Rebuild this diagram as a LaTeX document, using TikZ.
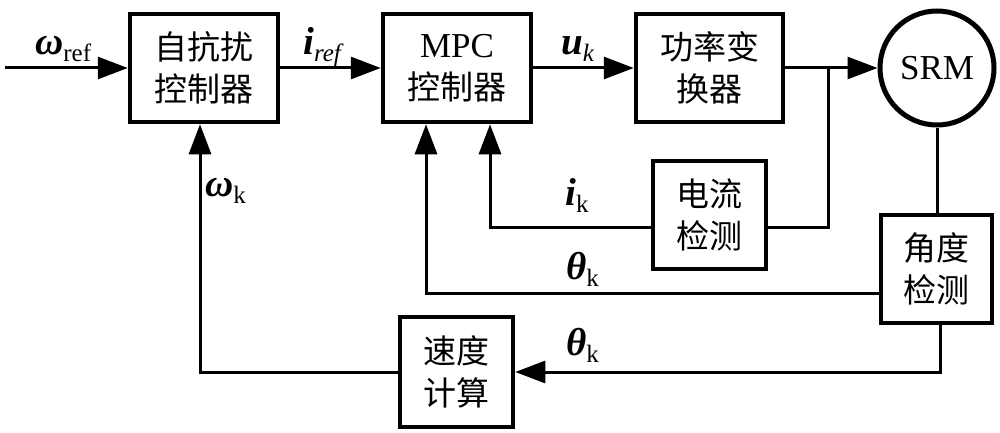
\documentclass[tikz,border=0pt]{standalone}
\usepackage{fontspec}
\setmainfont{Liberation Serif}
\newfontfamily\cjk{Noto Sans CJK SC}
\usetikzlibrary{arrows.meta}
\newcommand{\mainsym}[1]{{\fontsize{39}{39}\selectfont\bfseries\itshape #1}}
\newcommand{\subup}[1]{\raisebox{-7pt}{\fontsize{25}{25}\selectfont #1}}
\newcommand{\subit}[1]{\raisebox{-7pt}{\fontsize{25}{25}\selectfont\itshape #1}}
\begin{document}
\begin{tikzpicture}[x=1pt,y=-1pt,
  blk/.style={draw, line width=4.5pt, inner sep=0pt, align=center,
    font=\cjk\fontsize{33}{42}\selectfont},
  conn/.style={line width=3pt},
  arr/.style={conn, -{Triangle[length=30pt,width=22pt]}},
  lbl/.style={inner sep=0pt, anchor=base west}]
\useasboundingbox (0,0) rectangle (1000,433);

% blocks
\node[blk, minimum width=148pt, minimum height=108pt] (adrc) at (204,68) {自抗扰\\控制器};
\node[blk, minimum width=148pt, minimum height=108pt] (mpc) at (457,68) {{\rmfamily\fontsize{35}{42}\selectfont MPC}\\控制器};
\node[blk, minimum width=147pt, minimum height=108pt] (pc) at (709.5,68) {功率变\\换器};
\node[draw, circle, line width=5pt, minimum size=114pt, inner sep=0pt,
      font=\fontsize{35}{35}\selectfont] (srm) at (937,68) {SRM};
\node[blk, minimum width=113pt, minimum height=108pt] (cd) at (709.5,215) {电流\\检测};
\node[blk, minimum width=111pt, minimum height=108pt] (ad) at (936.5,269) {角度\\检测};
\node[blk, minimum width=113pt, minimum height=110pt] (sc) at (456.5,372) {速度\\计算};

% coordinates
\coordinate (in) at (5,68);
\coordinate (j1) at (828,68);
\coordinate (j2) at (828,227);

% connectors
\draw[arr] (in) -- (adrc.west);
\draw[arr] (adrc.east) -- (mpc.west);
\draw[arr] (mpc.east) -- (pc.west);
\draw[arr] (pc.east) -- (srm.west);
\draw[conn] (j1) -- (j2) -- (j2 -| cd.east);
\draw[arr] (cd.west |- j2) -| ([xshift=33pt]mpc.south);
\draw[arr] ([yshift=-24pt]ad.west) -| ([xshift=-31pt]mpc.south);
\draw[conn] (srm.south) -- (srm.south |- ad.north);
\draw[arr] ([xshift=4pt]ad.south) |- (sc.east);
\draw[arr] (sc.west) -| ([xshift=-4pt]adrc.south);

% labels
\node[lbl] (l1) at (35,55) {\mainsym{ω}\subup{ref}};
\node[lbl] (l2) at (303,55) {\mainsym{i}\subit{ref}};
\node[lbl] (l3) at (561,55) {\mainsym{u}\subit{k}};
\node[lbl] (l4) at (565,205) {\mainsym{i}\subup{k}};
\node[lbl] (l5) at (566,279) {\mainsym{θ}\subup{k}};
\node[lbl] (l6) at (566,355) {\mainsym{θ}\subup{k}};
\node[lbl] (l7) at (205,196) {\mainsym{ω}\subup{k}};
\end{tikzpicture}
\end{document}
